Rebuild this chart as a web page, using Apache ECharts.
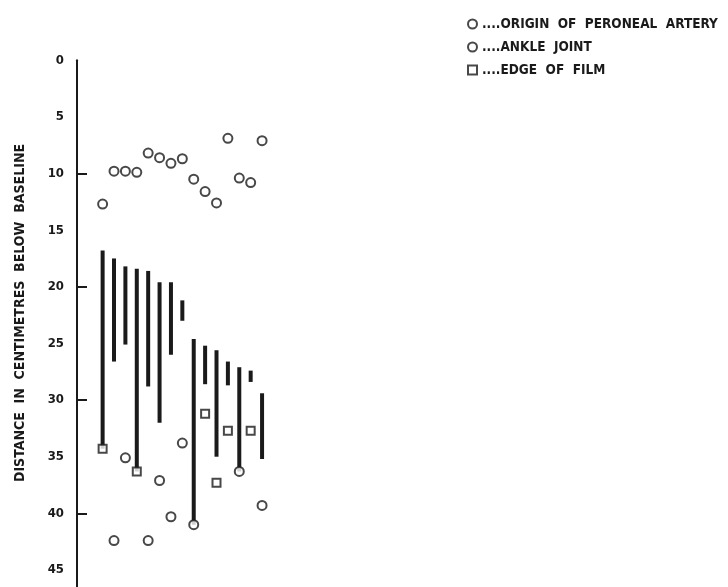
<!DOCTYPE html>
<html>
<head>
<meta charset="utf-8">
<script src="https://cdn.jsdelivr.net/npm/echarts@6/dist/echarts.min.js"></script>
<style>
html,body{margin:0;padding:0;background:#fff;}
#chart{width:728px;height:587px;}
</style>
</head>
<body>
<div id="chart"></div>
<script>
// ---- data (distance in cm below baseline) ----
var columns = [1,2,3,4,5,6,7,8,9,10,11,12,13,14,15];
var originValues = [12.7, 9.8, 9.8, 9.9, 8.2, 8.6, 9.1, 8.7, 10.5, 11.6, 12.6, 6.9, 10.4, 10.8, 7.1];
var barTop    = [16.8, 17.5, 18.2, 18.4, 18.6, 19.6, 19.6, 21.2, 24.6, 25.2, 25.6, 26.6, 27.1, 27.4, 29.4];
var barBottom = [34.3, 26.6, 25.1, 36.3, 28.8, 32.0, 26.0, 23.0, 41.0, 28.6, 35.0, 28.7, 36.3, 28.4, 35.2];
var ankleColumns = [2, 3, 5, 6, 7, 8, 9, 13, 15];
var ankleValues  = [42.4, 35.1, 42.4, 37.1, 40.3, 33.8, 41.0, 36.3, 39.3];
var filmColumns = [1, 4, 10, 11, 12, 14];
var filmValues  = [34.3, 36.3, 31.2, 37.3, 32.7, 32.7];
var yTickLabels = [0, 5, 10, 15, 20, 25, 30, 35, 40, 45];
var yMajorTicks = [10, 20, 30, 40];
var legendNames = ['ORIGIN OF PERONEAL ARTERY', 'ANKLE JOINT', 'EDGE OF FILM'];
var axisTitle = 'DISTANCE IN CENTIMETRES BELOW BASELINE';

var FONT = '"Liberation Sans Narrow", "DejaVu Sans Condensed", sans-serif';
var INK = '#1a1a1a';

function pairs(xs, ys){ return xs.map(function(x,i){ return [x, ys[i]]; }); }
function wide(s){ return s.split(' ').join('  '); }
var barData = columns.map(function(c,i){ return [c, barTop[i], barBottom[i]]; });

var chart = echarts.init(document.getElementById('chart'), null, {renderer:'canvas'});
chart.setOption({
  animation: false,
  backgroundColor: '#fff',
  grid: { left: 77, top: 60.2, width: 242, height: 530.6, containLabel: false },
  xAxis: { type: 'value', min: -1.25, max: 20, show: false },
  yAxis: {
    type: 'value', inverse: true, min: 0, max: 46.5,
    axisLine: { show: true, onZero: false, lineStyle: { color: INK, width: 2 } },
    axisTick: { show: true, inside: true, length: 10, customValues: yMajorTicks, lineStyle: { color: INK, width: 2 } },
    axisLabel: { show: true, customValues: yTickLabels, margin: 13, color: INK, fontSize: 13, fontWeight: 'bold', fontFamily: FONT, padding: [6,0,0,0] },
    splitLine: { show: false }
  },
  legend: {
    orient: 'vertical', left: 462, top: 12, itemGap: 9,
    itemWidth: 9, itemHeight: 9,
    data: legendNames,
    formatter: function(n){ return '....' + wide(n); },
    textStyle: { color: INK, fontSize: 13.5, fontWeight: 'bold', fontFamily: FONT },
    selectedMode: false
  },
  graphic: [{
    type: 'text', x: 20, y: 313, rotation: Math.PI/2,
    style: { text: wide(axisTitle), fill: INK, font: 'bold 14px ' + FONT, align: 'center', verticalAlign: 'middle' }
  }],
  series: [
    {
      type: 'custom', name: 'extent', z: 1,
      data: barData,
      renderItem: function(params, api){
        var p1 = api.coord([api.value(0), api.value(1)]);
        var p2 = api.coord([api.value(0), api.value(2)]);
        return { type: 'line', shape: { x1: p1[0], y1: p1[1], x2: p2[0], y2: p2[1] },
                 style: { stroke: INK, lineWidth: 4 } };
      }
    },
    {
      type: 'scatter', name: legendNames[0], z: 3,
      symbol: 'emptyCircle', symbolSize: 9,
      itemStyle: { color: INK, borderColor: INK, borderWidth: 1.6 },
      data: pairs(columns, originValues)
    },
    {
      type: 'scatter', name: legendNames[1], z: 3,
      symbol: 'emptyCircle', symbolSize: 9,
      itemStyle: { color: INK, borderColor: INK, borderWidth: 1.6 },
      data: pairs(ankleColumns, ankleValues)
    },
    {
      type: 'scatter', name: legendNames[2], z: 3,
      symbol: 'emptyRect', symbolSize: 8,
      itemStyle: { color: INK, borderColor: INK, borderWidth: 1.6 },
      data: pairs(filmColumns, filmValues)
    }
  ]
});
</script>
</body>
</html>
